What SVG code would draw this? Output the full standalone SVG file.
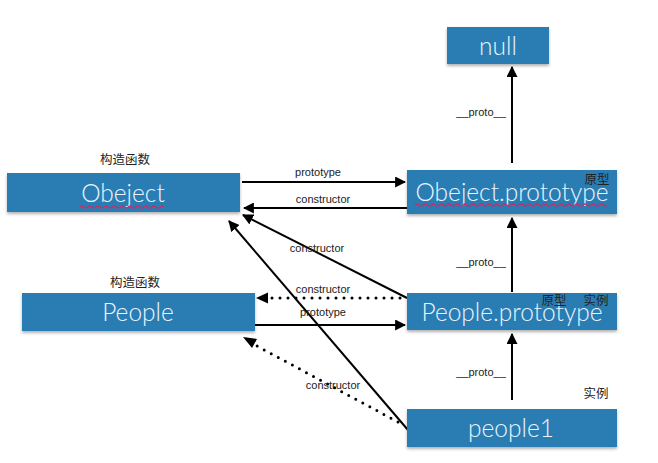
<svg xmlns="http://www.w3.org/2000/svg" width="658" height="463" viewBox="0 0 658 463">
<style>
.box{fill:#2a7db2;filter:url(#sh)}
.nt{font-family:Lato,"Open Sans",sans-serif;font-weight:300;font-size:24.5px;fill:#eaf5ff;text-anchor:middle}
.lb{font-family:"Liberation Sans",Arial,sans-serif;font-size:11px;fill:#222;text-anchor:middle}
.cj{font-family:"Noto Sans CJK SC",sans-serif;font-size:12.5px;fill:#222;text-anchor:middle}
.ln{stroke:#000;stroke-width:2;fill:none}
.dt{stroke:#000;stroke-width:3;fill:none;stroke-dasharray:0 8;stroke-linecap:round}
.wv{stroke:#c2306e;stroke-width:1.2;fill:none}
</style>
<defs>
<filter id="sh" x="-5%" y="-20%" width="110%" height="160%">
<feDropShadow dx="0" dy="2" stdDeviation="1.5" flood-color="#000" flood-opacity="0.3"/>
</filter>
<marker id="ab" viewBox="0 0 10 10" refX="9" refY="5" markerWidth="5.5" markerHeight="5.5" orient="auto">
<path d="M0,0 L10,5 L0,10 z" fill="#000"/>
</marker>
</defs>
<g id="connectors">
<line class="ln" x1="512" y1="163" x2="512" y2="67" marker-end="url(#ab)"/>
<text class="lb" x="481" y="116">__proto__</text>
<line class="ln" x1="242" y1="182" x2="405" y2="182" marker-end="url(#ab)"/>
<text class="lb" x="318" y="176">prototype</text>
<line class="ln" x1="407" y1="208" x2="244" y2="208" marker-end="url(#ab)"/>
<text class="lb" x="323" y="203">constructor</text>
<line class="ln" x1="407" y1="298" x2="243" y2="215" marker-end="url(#ab)"/>
<text class="lb" x="317" y="252">constructor</text>
<line class="ln" x1="408" y1="430" x2="229" y2="221" marker-end="url(#ab)"/>
<line class="dt" x1="400" y1="298" x2="268" y2="298"/>
<path d="M256,298 L268,292.5 L268,303.5 z" fill="#000"/>
<text class="lb" x="323" y="293">constructor</text>
<line class="ln" x1="252" y1="325" x2="405" y2="325" marker-end="url(#ab)"/>
<text class="lb" x="323" y="316">prototype</text>
<line class="dt" x1="398" y1="422" x2="257" y2="346"/>
<path d="M243,337 L257,339 L252,348 z" fill="#000"/>
<text class="lb" x="333" y="389">constructor</text>
<line class="ln" x1="512" y1="292" x2="512" y2="218" marker-end="url(#ab)"/>
<text class="lb" x="481" y="266">__proto__</text>
<line class="ln" x1="512" y1="400" x2="512" y2="334" marker-end="url(#ab)"/>
<text class="lb" x="481" y="376">__proto__</text>
</g>
<g id="null">
<rect class="box" x="447" y="27" width="102" height="37"/>
<text class="nt" x="498" y="55">null</text>
</g>
<g id="obeject">
<text class="cj" x="125" y="164">构造函数</text>
<rect class="box" x="7" y="173" width="233" height="39"/>
<text class="nt" x="123" y="202">Obeject</text>
<path class="wv" d="M80,207 q2,-2 4,0 t4,0 t4,0 t4,0 t4,0 t4,0 t4,0 t4,0 t4,0 t4,0 t4,0 t4,0 t4,0 t4,0 t4,0 t4,0 t4,0 t4,0 t4,0 t4,0 t4,0"/>
</g>
<g id="obeject-prototype">
<rect class="box" x="407" y="170" width="210" height="44"/>
<text class="nt" x="512" y="201">Obeject.prototype</text>
<path class="wv" d="M415,205 q2,-2 4,0 t4,0 t4,0 t4,0 t4,0 t4,0 t4,0 t4,0 t4,0 t4,0 t4,0 t4,0 t4,0 t4,0 t4,0 t4,0 t4,0 t4,0 t4,0 t4,0 t4,0 t4,0 t4,0 t4,0 t4,0 t4,0 t4,0 t4,0 t4,0 t4,0 t4,0 t4,0 t4,0 t4,0 t4,0 t4,0 t4,0 t4,0 t4,0 t4,0 t4,0 t4,0 t4,0 t4,0 t4,0 t4,0 t4,0 t4,0"/>
<text class="cj" x="597" y="184">原型</text>
</g>
<g id="people">
<text class="cj" x="135" y="287">构造函数</text>
<rect class="box" x="22" y="293" width="233" height="38"/>
<text class="nt" x="138" y="321">People</text>
</g>
<g id="people-prototype">
<rect class="box" x="407" y="293" width="210" height="37"/>
<text class="nt" x="512" y="321">People.prototype</text>
<text class="cj" x="554" y="305">原型</text>
<text class="cj" x="596" y="305">实例</text>
</g>
<g id="people1">
<text class="cj" x="596" y="398">实例</text>
<rect class="box" x="407" y="409" width="210" height="38"/>
<text class="nt" x="511" y="437">people1</text>
</g>
</svg>
